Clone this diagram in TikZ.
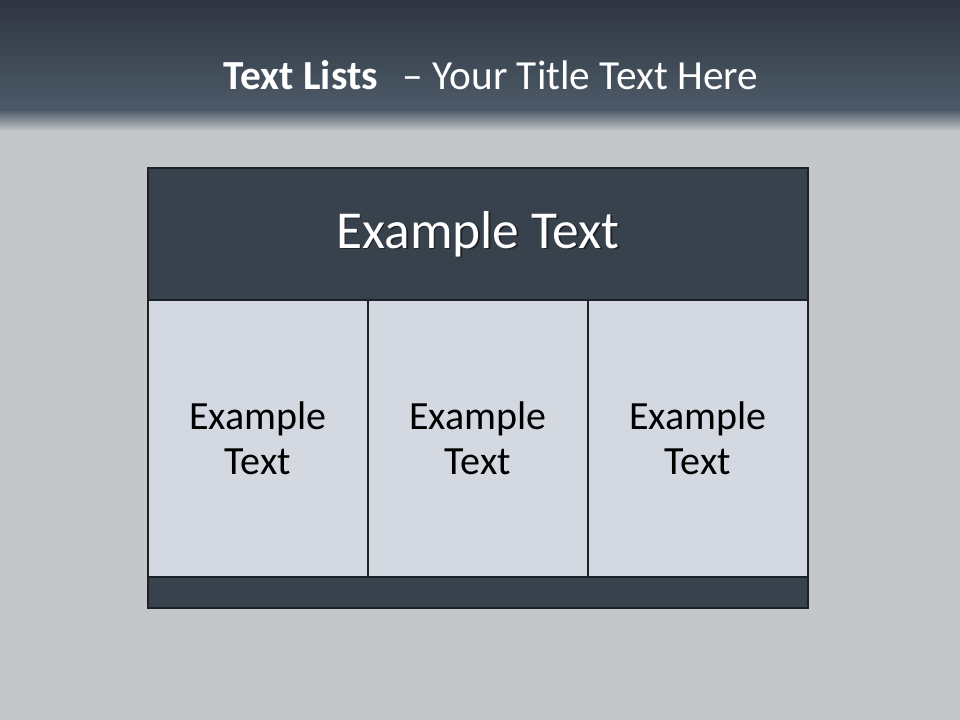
\documentclass[tikz,border=0pt]{standalone}
\usepackage{fontspec}
\setmainfont{Carlito}
\usepackage{tikz}
\usetikzlibrary{positioning}

\definecolor{bandtop}{HTML}{2E3540}
\definecolor{bandbot}{HTML}{4D5A68}
\definecolor{bgrey}{HTML}{C5C6CA}
\definecolor{slate}{HTML}{38424D}
\definecolor{edge}{HTML}{1C2128}
\definecolor{cellfill}{HTML}{D4D9E1}

\begin{document}
\begin{tikzpicture}[
		x=0.75pt, y=-0.75pt,
		box/.style={draw=edge, line width=1.6pt, anchor=north west, inner sep=0pt, outer sep=0pt},
		headbox/.style={box, fill=slate, minimum width=495pt, minimum height=99pt},
		headfont/.style={font=\fontsize{40}{46}\selectfont},
		cellbox/.style={box, fill=cellfill, minimum width=165pt, minimum height=207.75pt,
			align=center, font=\fontsize{30}{34}\selectfont},
		footbox/.style={box, fill=slate, minimum width=495pt, minimum height=23.25pt}
	]
		% fond
		\fill[bgrey] (0,0) rectangle (960,720);
		\shade[top color=bandtop, bottom color=bandbot] (0,0) rectangle (960,110);
		\shade[top color=bandbot, bottom color=bgrey!90!white] (0,110) rectangle (960,132);
		\useasboundingbox (0,0) rectangle (960,720);

		% titre
		\node[text=white, font=\fontsize{31}{35}\selectfont] (title) at (491,75)
			{\textbf{Text Lists}\hspace{0.6em}– Your Title Text Here};

		% bloc du haut
		\node[headbox] (head) at (148,168) {};
		\node[headfont, text=black, opacity=0.45] (headshd) at ([xshift=1.2pt,yshift=-1.2pt]head.center) {Example Text};
		\node[headfont, text=white] (headtxt) at (head.center) {Example Text};

		% trois colonnes
		\node[cellbox] (c1) at (148,300) {Example\\Text};
		\node[cellbox, right=0pt of c1] (c2) {Example\\Text};
		\node[cellbox, right=0pt of c2] (c3) {Example\\Text};

		% barre du bas
		\node[footbox] (foot) at (148,577) {};
	\end{tikzpicture}
\end{document}
